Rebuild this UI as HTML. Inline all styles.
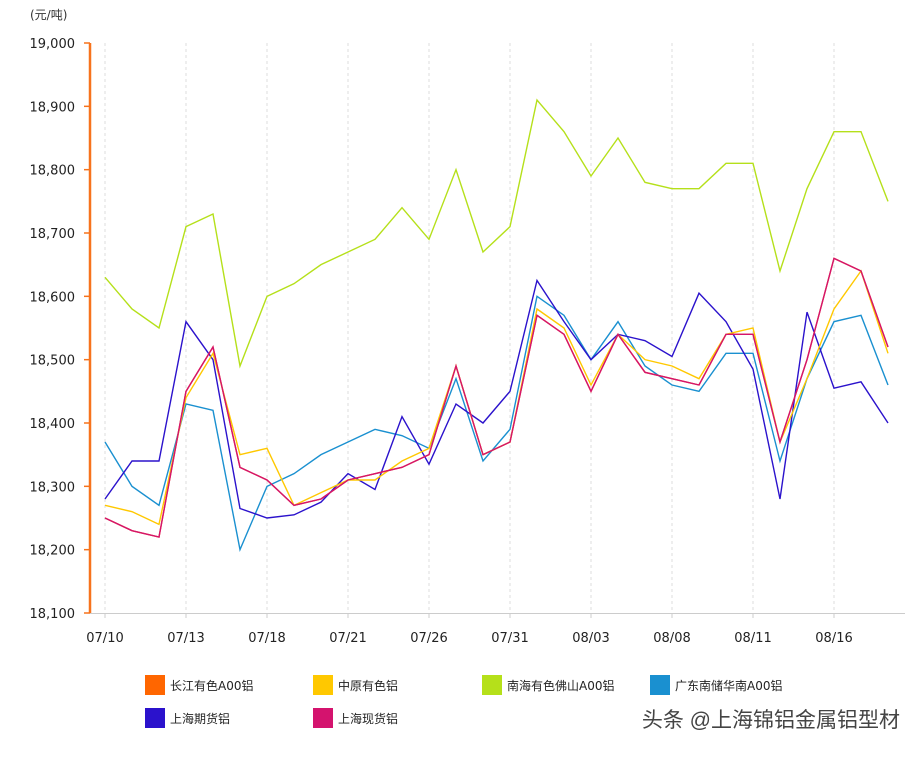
<!DOCTYPE html>
<html><head><meta charset="utf-8"><style>
body{margin:0;background:#fff;width:923px;height:753px;overflow:hidden;font-family:"Liberation Sans","Noto Sans CJK SC",sans-serif;}
svg text{font-family:"DejaVu Sans","Noto Sans CJK SC",sans-serif;}
</style></head><body>
<svg id="chart" width="923" height="753">
<text x="30" y="19" font-size="12" fill="#333">(元/吨)</text>
<g id="grid"></g><g id="yax"></g><g id="xax"></g><g id="series"></g><g id="legend"></g>
<text x="900" y="727" font-size="21" fill="#444" text-anchor="end" style="font-family:'Liberation Sans','Noto Sans CJK SC',sans-serif">头条 @上海锦铝金属铝型材</text>
</svg>
<script>
const categories=["07/10","07/11","07/12","07/13","07/14","07/17","07/18","07/19","07/20","07/21","07/24","07/25","07/26","07/27","07/28","07/31","08/01","08/02","08/03","08/04","08/07","08/08","08/09","08/10","08/11","08/14","08/15","08/16","08/17","08/18"];
const yTicks=[18100,18200,18300,18400,18500,18600,18700,18800,18900,19000];
const sNanhai=[18630,18580,18550,18710,18730,18490,18600,18620,18650,18670,18690,18740,18690,18800,18670,18710,18910,18860,18790,18850,18780,18770,18770,18810,18810,18640,18770,18860,18860,18750];
const sZhongyuan=[18270,18260,18240,18440,18510,18350,18360,18270,18290,18310,18310,18340,18360,18490,18350,18370,18580,18550,18460,18540,18500,18490,18470,18540,18550,18370,18470,18580,18640,18510];
const sXianhuo=[18250,18230,18220,18450,18520,18330,18310,18270,18280,18310,18320,18330,18350,18490,18350,18370,18570,18540,18450,18540,18480,18470,18460,18540,18540,18370,18500,18660,18640,18520];
const sChangjiang=[18250,18230,18220,18450,18520,18330,18310,18270,18280,18310,18320,18330,18350,18490,18350,18370,18570,18540,18450,18540,18480,18470,18460,18540,18540,18370,18500,18660,18640,18520];
const sQihuo=[18280,18340,18340,18560,18500,18265,18250,18255,18275,18320,18295,18410,18335,18430,18400,18450,18625,18560,18500,18540,18530,18505,18605,18560,18485,18280,18575,18455,18465,18400];
const sGuangdong=[18370,18300,18270,18430,18420,18200,18300,18320,18350,18370,18390,18380,18360,18470,18340,18390,18600,18570,18500,18560,18490,18460,18450,18510,18510,18340,18470,18560,18570,18460];
const NS="http://www.w3.org/2000/svg";
const x=i=>105+i*27;
const y=v=>613-(v-18100)*570/900;
function el(tag,attrs,parent){const e=document.createElementNS(NS,tag);for(const k in attrs)e.setAttribute(k,attrs[k]);parent.appendChild(e);return e;}
const grid=document.getElementById('grid'),yax=document.getElementById('yax'),xax=document.getElementById('xax'),ser=document.getElementById('series'),leg=document.getElementById('legend');
categories.forEach((c,i)=>{if(i%3===0){
 const g=el('line',{x1:x(i),x2:x(i),y1:43,y2:613,stroke:'#ddd','stroke-dasharray':'3,3'},grid);
 
 
 const t=el('text',{x:x(i),y:642,'font-size':13,fill:'#222','text-anchor':'middle'},xax);t.textContent=c;
 
 
 const tk=el('line',{x1:x(i),x2:x(i),y1:613,y2:618,stroke:'#ccc'},xax);
 
 
}});
const bl=el('line',{x1:90,x2:905,y1:613.5,y2:613.5,stroke:'#ccc'},xax);


yTicks.forEach(v=>{
 const t=el('text',{x:75,y:y(v)+5,'font-size':13,fill:'#222','text-anchor':'end'},yax);t.textContent=v.toLocaleString('en-US');
 
 
 const tk=el('line',{x1:84,x2:90,y1:y(v),y2:y(v),stroke:'#f7731c','stroke-width':1.5},yax);
 
 
});
const al=el('line',{x1:90,x2:90,y1:43,y2:613,stroke:'#f7731c','stroke-width':2.5},yax);


const series=[
 ['nanhai',sNanhai,'#b5e01a','南海有色佛山A00铝'],
 ['guangdong',sGuangdong,'#1a90d0','广东南储华南A00铝'],
 ['qihuo',sQihuo,'#2b12cc','上海期货铝'],
 ['changjiang',sChangjiang,'#ff6600','长江有色A00铝'],
 ['zhongyuan',sZhongyuan,'#ffc800','中原有色铝'],
 ['xianhuo',sXianhuo,'#d4136e','上海现货铝']];
series.forEach(s=>{
 const p=el('polyline',{points:s[1].map((v,i)=>x(i)+','+y(v)).join(' '),fill:'none',stroke:s[2],'stroke-width':1.4},ser);
 
 
});
const legItems=[['长江有色A00铝','#ff6600',145,685],['中原有色铝','#ffc800',313,685],['南海有色佛山A00铝','#b5e01a',482,685],['广东南储华南A00铝','#1a90d0',650,685],['上海期货铝','#2b12cc',145,718],['上海现货铝','#d4136e',313,718]];
legItems.forEach(l=>{
 const g=el('g',{},leg);
 
 
 el('rect',{x:l[2],y:l[3]-10,width:20,height:20,fill:l[1]},g);
 const t=el('text',{x:l[2]+25,y:l[3]+5,'font-size':12,fill:'#222'},g);t.textContent=l[0];
});
</script>
</body></html>
